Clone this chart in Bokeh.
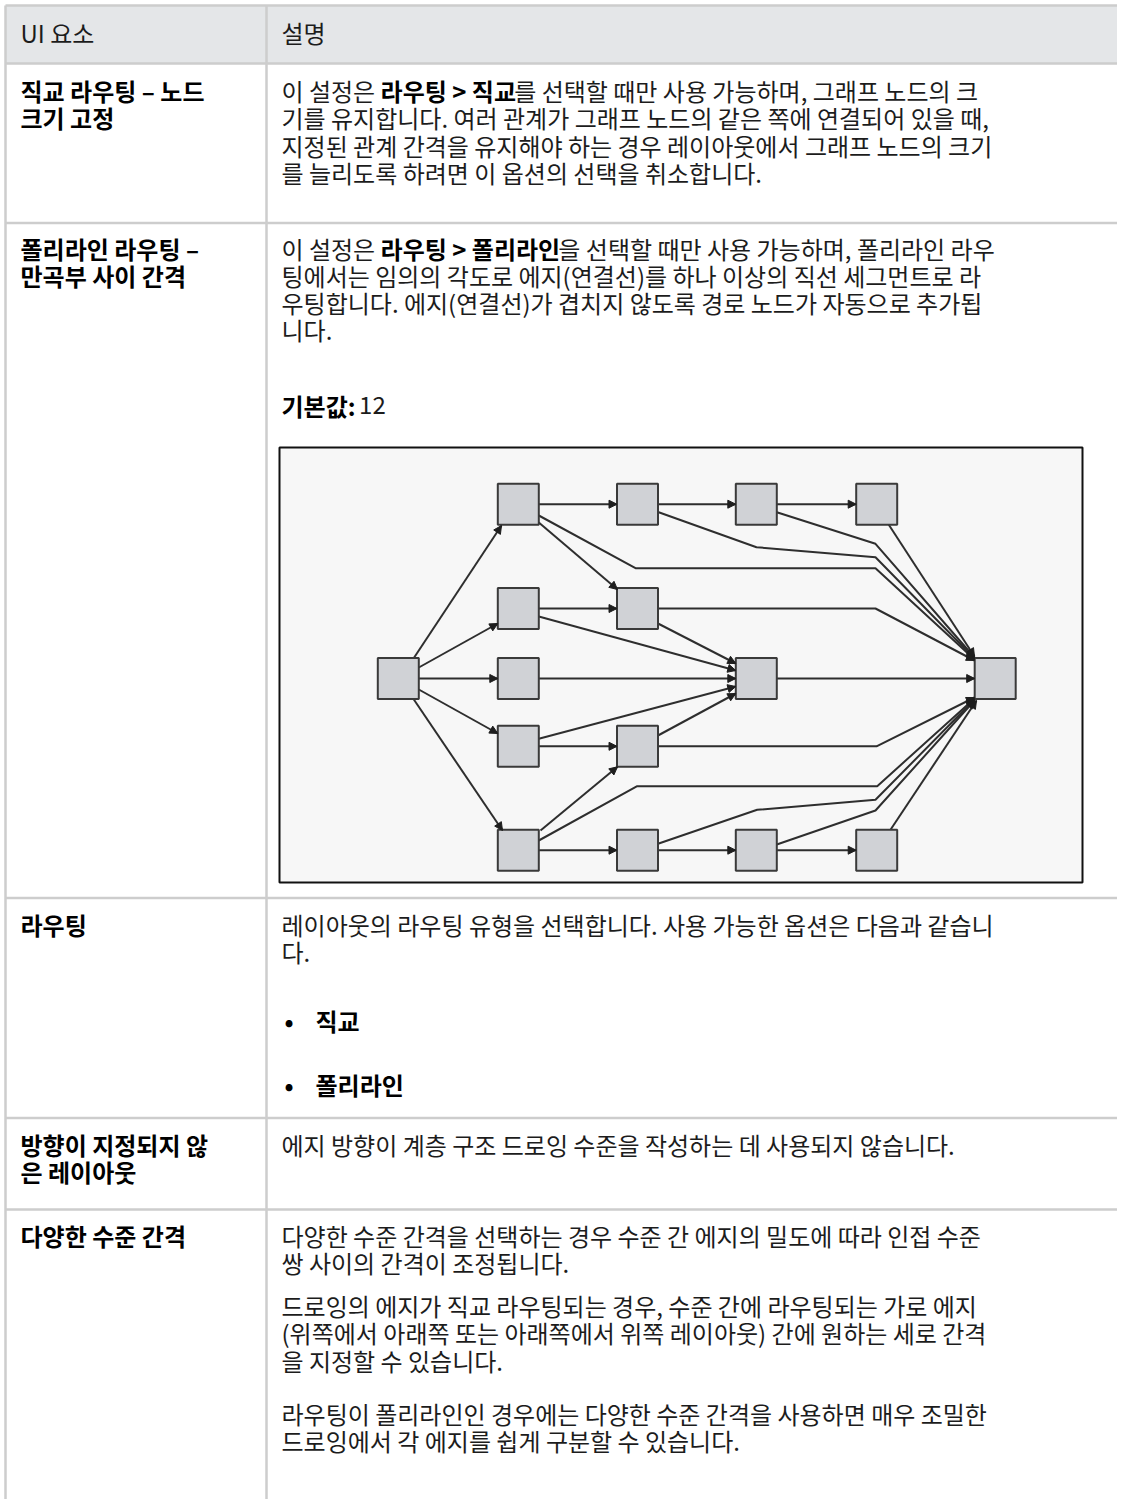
from bokeh.plotting import figure
from bokeh.models import Range1d, ColumnDataSource, Arrow, NormalHead
from bokeh.core.properties import value
from bokeh.embed import file_html
from bokeh.resources import INLINE

# ---------------- data: table texts ----------------
HEADERS = ["UI 요소", "설명"]

ELEMENT_NAMES = [
    ["직교 라우팅 – 노드", "크기 고정"],
    ["폴리라인 라우팅 –", "만곡부 사이 간격"],
    ["라우팅"],
    ["방향이 지정되지 않", "은 레이아웃"],
    ["다양한 수준 간격"],
]

# each line: list of (text, bold)
DESCRIPTIONS = [
    [
        [("이 설정은 ", 0), ("라우팅 > 직교", 1), ("를 선택할 때만 사용 가능하며, 그래프 노드의 크", 0)],
        [("기를 유지합니다. 여러 관계가 그래프 노드의 같은 쪽에 연결되어 있을 때,", 0)],
        [("지정된 관계 간격을 유지해야 하는 경우 레이아웃에서 그래프 노드의 크기", 0)],
        [("를 늘리도록 하려면 이 옵션의 선택을 취소합니다.", 0)],
    ],
    [
        [("이 설정은 ", 0), ("라우팅 > 폴리라인", 1), ("을 선택할 때만 사용 가능하며, 폴리라인 라우", 0)],
        [("팅에서는 임의의 각도로 에지(연결선)를 하나 이상의 직선 세그먼트로 라", 0)],
        [("우팅합니다. 에지(연결선)가 겹치지 않도록 경로 노드가 자동으로 추가됩", 0)],
        [("니다.", 0)],
        [("기본값:", 1), (" 12", 0)],
    ],
    [
        [("레이아웃의 라우팅 유형을 선택합니다. 사용 가능한 옵션은 다음과 같습니", 0)],
        [("다.", 0)],
        [("•", 1), ("직교", 1)],
        [("•", 1), ("폴리라인", 1)],
    ],
    [
        [("에지 방향이 계층 구조 드로잉 수준을 작성하는 데 사용되지 않습니다.", 0)],
    ],
    [
        [("다양한 수준 간격을 선택하는 경우 수준 간 에지의 밀도에 따라 인접 수준", 0)],
        [("쌍 사이의 간격이 조정됩니다.", 0)],
        [("드로잉의 에지가 직교 라우팅되는 경우, 수준 간에 라우팅되는 가로 에지", 0)],
        [("(위쪽에서 아래쪽 또는 아래쪽에서 위쪽 레이아웃) 간에 원하는 세로 간격", 0)],
        [("을 지정할 수 있습니다.", 0)],
        [("라우팅이 폴리라인인 경우에는 다양한 수준 간격을 사용하면 매우 조밀한", 0)],
        [("드로잉에서 각 에지를 쉽게 구분할 수 있습니다.", 0)],
    ],
]

# ---------------- data: diagram (diagram units) ----------------
NODE_COL = [0, 1, 1, 1, 1, 1, 2, 2, 2, 2, 3, 3, 3, 4, 4, 5]
NODE_ROW = [2, 0, 1, 2, 3, 4, 0, 1, 3, 4, 0, 2, 4, 0, 4, 2]
COL_X = [118.8, 238.8, 358.0, 476.8, 597.2, 715.7]
ROW_Y = [56.7, 161.0, 231.0, 298.8, 402.7]

EDGES = [
    [(134, 211), (222, 78)],
    [(139.3, 220), (218.3, 176)],
    [(139.3, 231), (218.3, 231)],
    [(139.3, 242), (218.3, 286)],
    [(134, 251.5), (223, 383)],
    [(259.3, 56.7), (337.5, 56.7)],
    [(259.3, 75), (338, 142)],
    [(259.3, 68), (356, 120.7), (596, 120.7), (695, 212)],
    [(378.5, 56.7), (456.3, 56.7)],
    [(378.5, 64.5), (477, 99.7), (596, 109.7), (695, 211)],
    [(497.3, 56.7), (576.7, 56.7)],
    [(497.3, 64.7), (596, 96.3), (695, 210)],
    [(609.3, 77.2), (695, 209)],
    [(259.3, 161), (337.5, 161)],
    [(259.3, 169), (456.3, 223)],
    [(378.5, 176), (456.3, 216)],
    [(378.5, 161), (596, 161), (695, 213)],
    [(259.3, 231), (456.3, 231)],
    [(497.3, 231), (695.2, 231)],
    [(259.3, 298.8), (337.5, 298.8)],
    [(259.3, 291.3), (456.3, 239)],
    [(378.5, 288), (456.3, 246)],
    [(378.5, 298.8), (597, 298.8), (695, 250)],
    [(261, 383), (338, 319.3)],
    [(259.3, 393), (357.7, 338.7), (597.7, 338.7), (695, 251)],
    [(259.3, 402.7), (337.5, 402.7)],
    [(378.5, 396.3), (477.7, 362.3), (596, 352.3), (695, 252)],
    [(378.5, 402.7), (456.3, 402.7)],
    [(497.3, 397), (596, 363), (695, 253)],
    [(497.3, 402.7), (576.7, 402.7)],
    [(611, 382.2), (697, 253)],
]

# ---------------- layout / style ----------------
W, H = 1125, 1507
OFF = 8
FONT = "Noto Sans CJK KR"
FS = 24
COL1_X, COL2_X = 20, 281
DIVIDER_X, LEFT_X = 266, 5
RIGHT_X = W
RULES_Y = [5, 63, 222.5, 897.5, 1117.5, 1209]
TEXT_DY = -1.5
HEADER_Y = 33
NAME_Y = [[91, 118.5], [249.5, 276.5], [925], [1145, 1172.5], [1236]]
DESC_Y = [
    [91, 118.5, 146, 173.5],
    [249.5, 276.5, 303.5, 330.5, 406],
    [925, 952.5, 1021, 1085],
    [1145],
    [1236, 1263.5, 1306, 1333.5, 1361, 1414, 1441.5],
]
BULLET_X, BULLET_TEXT_X = 284, 315
BOX = (279, 447, 1082, 882)  # left, top, right, bottom
NODE = 41

p = figure(width=W, height=H, x_range=Range1d(-OFF, W - OFF), y_range=Range1d(H - OFF, -OFF),
           output_backend="svg", toolbar_location=None,
           x_axis_location=None, y_axis_location=None,
           min_border=0, margin=(-OFF, 0, 0, -OFF))
p.grid.visible = False
p.outline_line_color = None
p.background_fill_color = "white"
p.border_fill_color = "white"

# header background
p.quad(left=[LEFT_X], right=[RIGHT_X], top=[RULES_Y[0]], bottom=[RULES_Y[1]],
       fill_color="#e4e6e8", line_color=None)
# table rules
p.segment(x0=[LEFT_X] * len(RULES_Y), x1=[RIGHT_X] * len(RULES_Y), y0=RULES_Y, y1=RULES_Y,
          line_color="#cdcdcd", line_width=2.5)
p.segment(x0=[LEFT_X, DIVIDER_X], x1=[LEFT_X, DIVIDER_X], y0=[RULES_Y[0]] * 2, y1=[H] * 2,
          line_color="#cdcdcd", line_width=2.5)


def adv(s):
    w = 0.0
    for ch in s:
        if "\uac00" <= ch <= "\ud7a3":
            w += 0.92
        elif ch == " ":
            w += 0.224
        elif ch in ",.:":
            w += 0.25
        elif ch in "()":
            w += 0.30
        elif ch == ">":
            w += 0.52
        elif ch.isdigit():
            w += 0.55
        else:
            w += 0.5
    return w * FS


norm = dict(x=[], y=[], text=[])
bold = dict(x=[], y=[], text=[])


def put(d, x, y, t):
    d["x"].append(x)
    d["y"].append(y + TEXT_DY)
    d["text"].append(t)


for t, x in zip(HEADERS, [COL1_X, COL2_X]):
    put(norm, x, HEADER_Y, t)

for names, ys in zip(ELEMENT_NAMES, NAME_Y):
    for t, y in zip(names, ys):
        put(bold, COL1_X, y, t)

for lines, ys in zip(DESCRIPTIONS, DESC_Y):
    for segs, y in zip(lines, ys):
        cx = COL2_X
        for t, b in segs:
            d = bold if b else norm
            if t == "•":
                put(d, BULLET_X, y, t)
                cx = BULLET_TEXT_X
                continue
            lead = len(t) - len(t.lstrip(" "))
            stripped = t.strip(" ")
            put(d, cx + adv(" " * lead), y, stripped)
            cx += adv(t)

p.text(x="x", y="y", text="text", source=ColumnDataSource(norm),
       text_font=value(FONT), text_font_size=f"{FS}px", text_color="#1c1c1c",
       text_baseline="middle", text_align="left")
p.text(x="x", y="y", text="text", source=ColumnDataSource(bold),
       text_font=value(FONT), text_font_size=f"{FS}px", text_font_style="bold",
       text_color="#000000", text_baseline="middle", text_align="left")

# ---------------- diagram ----------------
bl, bt, br, bb = BOX
p.quad(left=[bl], right=[br], top=[bt], bottom=[bb],
       fill_color="#f7f7f7", line_color="#111111", line_width=2)

xs = [[bl + px for px, py in e] for e in EDGES]
ys = [[bt + py for px, py in e] for e in EDGES]
p.multi_line(xs=xs, ys=ys, line_color="#2e2e2e", line_width=2)

asrc = ColumnDataSource(dict(
    x0=[bl + e[-2][0] for e in EDGES], y0=[bt + e[-2][1] for e in EDGES],
    x1=[bl + e[-1][0] for e in EDGES], y1=[bt + e[-1][1] for e in EDGES]))
p.add_layout(Arrow(end=NormalHead(size=8, fill_color="#1e1e1e", line_color="#1e1e1e", line_width=1),
                   x_start="x0", y_start="y0", x_end="x1", y_end="y1",
                   source=asrc, line_alpha=0))

nx = [bl + COL_X[c] for c in NODE_COL]
ny = [bt + ROW_Y[r] for r in NODE_ROW]
p.rect(x=nx, y=ny, width=NODE, height=NODE, fill_color="#d0d2d6",
       line_color="#3a3a3a", line_width=2)

open("out.html", "w").write(file_html(p, INLINE))
